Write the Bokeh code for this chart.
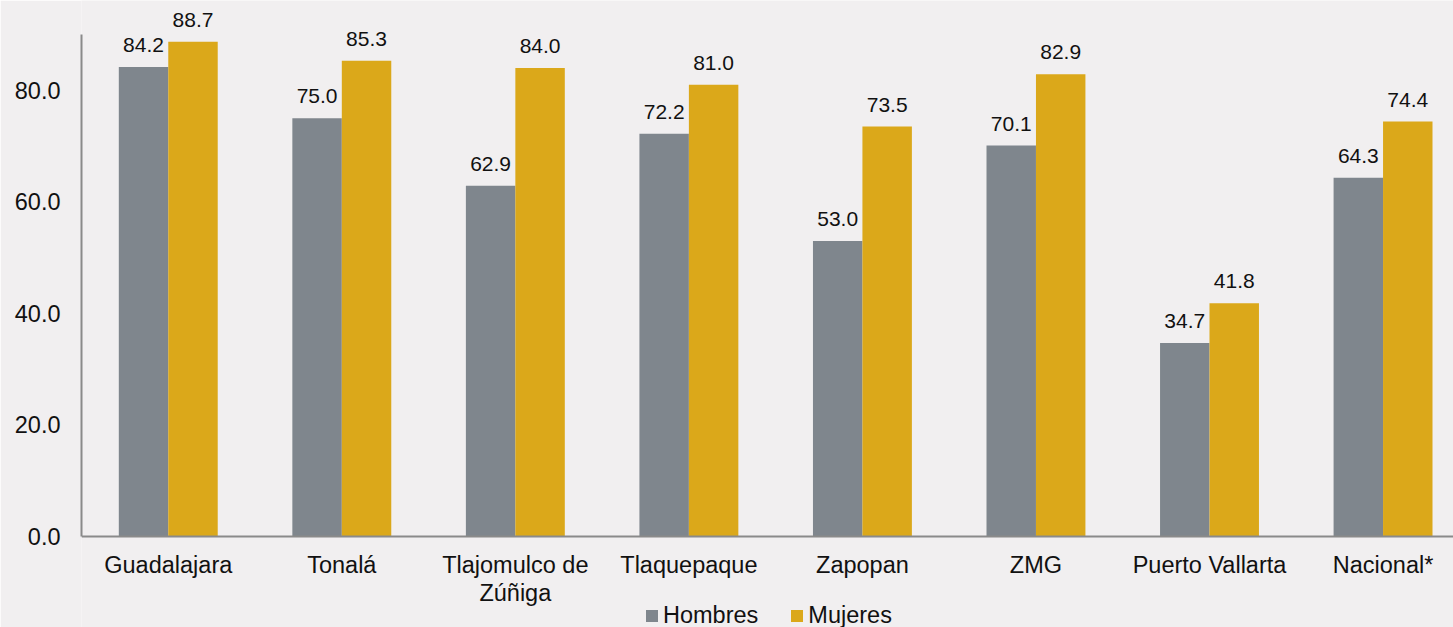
from bokeh.plotting import figure
from bokeh.models import ColumnDataSource, Range1d, FixedTicker, Legend, LegendItem, LabelSet
from bokeh.transform import dodge
from bokeh.core.properties import value
from bokeh.embed import file_html
from bokeh.resources import INLINE

categories = ["Guadalajara", "Tonalá", "Tlajomulco de\nZúñiga", "Tlaquepaque",
              "Zapopan", "ZMG", "Puerto Vallarta", "Nacional*"]
hombres = [84.2, 75.0, 62.9, 72.2, 53.0, 70.1, 34.7, 64.3]
mujeres = [88.7, 85.3, 84.0, 81.0, 73.5, 82.9, 41.8, 74.4]
series_names = ["Hombres", "Mujeres"]
y_ticks = [0, 20, 40, 60, 80]
y_tick_labels = ["0.0", "20.0", "40.0", "60.0", "80.0"]

FONT = "Liberation Sans"
BG = "#f1eff0"
GRAY = "#7f868d"
GOLD = "#dba81a"
AXIS = "#8a8a8a"
TXT = "#111111"

pos = [i + 0.5 for i in range(len(categories))]
src = ColumnDataSource(dict(
    pos=pos, cat=categories, hombres=hombres, mujeres=mujeres,
    h_lbl=[f"{v:.1f}" for v in hombres], m_lbl=[f"{v:.1f}" for v in mujeres],
))

# frame covers the whole canvas height; x axis is fixed at y = 0 inside it
p = figure(width=1453, height=627, output_backend="svg", toolbar_location=None,
           x_range=Range1d(0, 7.906), y_range=Range1d(-16.31, 96.1),
           min_border_left=81, min_border_top=0, min_border_bottom=0, min_border_right=0)
p.background_fill_color = BG
p.border_fill_color = BG
p.outline_line_color = None
p.grid.visible = False

bw = 0.285
r1 = p.vbar(x=dodge("pos", -bw / 2, range=p.x_range), top="hombres", width=bw,
            source=src, fill_color=GRAY, line_color=None)
r2 = p.vbar(x=dodge("pos", bw / 2, range=p.x_range), top="mujeres", width=bw,
            source=src, fill_color=GOLD, line_color=None)

for col, lbl, off in (("hombres", "h_lbl", -bw / 2), ("mujeres", "m_lbl", bw / 2)):
    ls = LabelSet(x=dodge("pos", off, range=p.x_range), y=col, text=lbl, source=src,
                  text_align="center", text_baseline="alphabetic", y_offset=15,
                  text_font=value(FONT), text_font_size=value("21px"), text_color=TXT)
    p.add_layout(ls)

# axes
p.xaxis.ticker = FixedTicker(ticks=pos)
p.xaxis.major_label_overrides = {x: c for x, c in zip(pos, categories)}
p.xaxis.fixed_location = 0
p.yaxis.ticker = FixedTicker(ticks=y_ticks)
p.yaxis.major_label_overrides = {t: l for t, l in zip(y_ticks, y_tick_labels)}
p.yaxis.bounds = (0, 90)
for ax in (p.xaxis, p.yaxis):
    ax.axis_line_color = AXIS
    ax.axis_line_width = 2
    ax.major_tick_line_color = None
    ax.minor_tick_line_color = None
    ax.major_tick_out = 0
    ax.major_tick_in = 0
    ax.major_label_text_font = FONT
    ax.major_label_text_font_size = "23.5px"
    ax.major_label_text_color = TXT
p.xaxis.major_label_standoff = 15
p.xaxis.major_label_text_line_height = 1.1
p.yaxis.major_label_standoff = 21

legend = Legend(items=[LegendItem(label=series_names[0], renderers=[r1]),
                       LegendItem(label=series_names[1], renderers=[r2])],
                location=(563, -2), orientation="horizontal",
                glyph_width=15, glyph_height=15, label_standoff=4, spacing=31,
                padding=0, margin=0, border_line_color=None, background_fill_alpha=0,
                label_text_font=FONT, label_text_font_size="23.5px", label_text_color=TXT)
p.add_layout(legend, "center")

open("out.html", "w").write(file_html(p, INLINE))
